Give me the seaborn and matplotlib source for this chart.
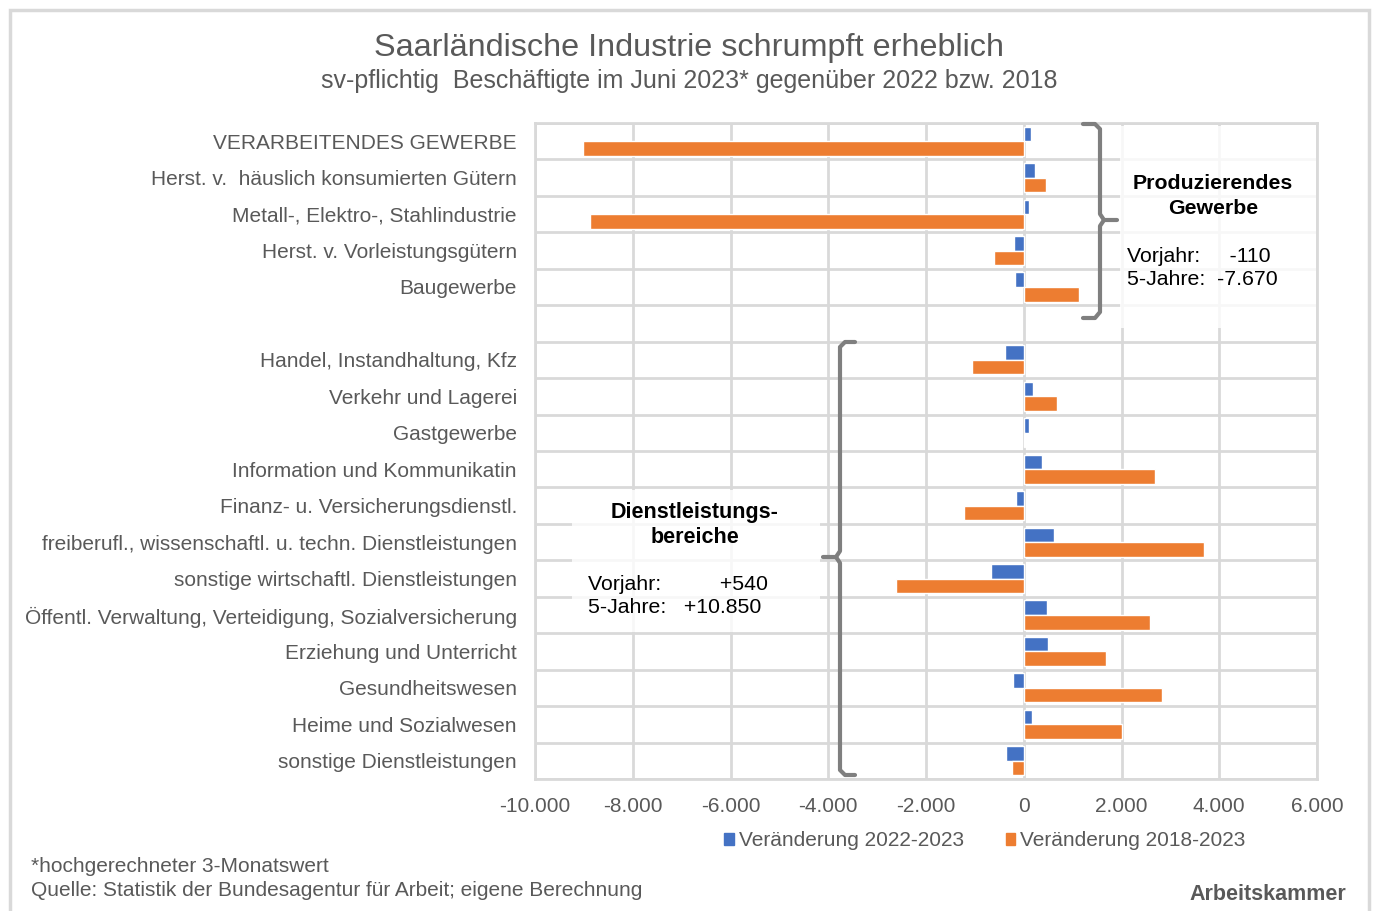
import numpy as np
import pandas as pd
import seaborn as sns
import matplotlib.pyplot as plt
from matplotlib.lines import Line2D
from matplotlib.patches import Rectangle, Patch
from matplotlib.ticker import FuncFormatter

# Data
categories = [
    'VERARBEITENDES GEWERBE',
    'Herst. v.  häuslich konsumierten Gütern',
    'Metall-, Elektro-, Stahlindustrie',
    'Herst. v. Vorleistungsgütern',
    'Baugewerbe',
    '',
    'Handel, Instandhaltung, Kfz',
    'Verkehr und Lagerei',
    'Gastgewerbe',
    'Information und Kommunikatin',
    'Finanz- u. Versicherungsdienstl.',
    'freiberufl., wissenschaftl. u. techn. Dienstleistungen',
    'sonstige wirtschaftl. Dienstleistungen',
    'Öffentl. Verwaltung, Verteidigung, Sozialversicherung',
    'Erziehung und Unterricht',
    'Gesundheitswesen',
    'Heime und Sozialwesen',
    'sonstige Dienstleistungen',
]
change_1y = [140, 225, 110, -200, -180, np.nan,
             -375, 180, 110, 380, -160, 610, -660, 470, 500, -230, 160, -360]
change_5y = [-9020, 450, -8870, -610, 1130, np.nan,
             -1060, 680, 20, 2680, -1220, 3680, -2610, 2590, 1680, 2820, 2000, -240]
series = ['Veränderung 2022-2023', 'Veränderung 2018-2023']

df = pd.DataFrame({
    'category': categories * 2,
    'value': change_1y + change_5y,
    'series': [series[0]] * len(categories) + [series[1]] * len(categories),
})

sns.set_style('white')
plt.rcParams['font.family'] = ['Liberation Sans', 'DejaVu Sans']

GREY = '#595959'
GRID = '#d9d9d9'
W, H = 1374, 911

fig = plt.figure(figsize=(W / 100, H / 100), dpi=100)
ax = fig.add_axes([535 / W, 1 - 779 / H, (1317 - 535) / W, (779 - 123) / H])

sns.barplot(data=df, x='value', y='category', hue='series', order=categories,
            hue_order=series, palette=['#4472C4', '#ED7D31'], orient='h',
            width=0.8, saturation=1, errorbar=None, ax=ax, legend=False)

ax.set_xlim(-10000, 6000)
ax.set_ylim(len(categories) - 0.5, -0.5)
ax.set_xticks(np.arange(-10000, 6001, 2000))
ax.xaxis.set_major_formatter(FuncFormatter(lambda x, p: f'{x:,.0f}'.replace(',', '.')))
ax.set_yticks(range(len(categories)))
ax.set_yticklabels(categories)
ax.set_yticks(np.arange(-0.5, len(categories)), minor=True)
ax.set_xlabel('')
ax.set_ylabel('')

ax.grid(axis='x', which='major', color=GRID, linewidth=2)
ax.grid(axis='y', which='minor', color=GRID, linewidth=2)
ax.set_axisbelow(True)
for s in ax.spines.values():
    s.set_color(GRID)
    s.set_linewidth(2)

ax.tick_params(axis='both', which='both', length=0, colors=GREY, labelsize=15)
ax.tick_params(axis='x', pad=13)
ax.tick_params(axis='y', pad=13)

# Title
fig.text(689 / W, 1 - 48 / H, 'Saarländische Industrie schrumpft erheblich',
         ha='center', va='center', fontsize=23.3, color=GREY)
fig.text(689 / W, 1 - 81 / H, 'sv-pflichtig  Beschäftigte im Juni 2023* gegenüber 2022 bzw. 2018',
         ha='center', va='center', fontsize=18, color=GREY)

# Legend
handles = [Patch(color='#4472C4'), Patch(color='#ED7D31')]
fig.legend(handles, series, loc='center', bbox_to_anchor=(985 / W, 1 - 841 / H), ncol=2,
           frameon=False, handlelength=0.45, handleheight=0.45, handletextpad=0.25,
           columnspacing=2.0, fontsize=15, labelcolor=GREY)

# Footnotes
fig.text(31 / W, 1 - 866 / H, '*hochgerechneter 3-Monatswert', ha='left', va='center',
         fontsize=15, color=GREY)
fig.text(31 / W, 1 - 890 / H, 'Quelle: Statistik der Bundesagentur für Arbeit; eigene Berechnung',
         ha='left', va='center', fontsize=15, color=GREY)
fig.text(1346 / W, 1 - 894 / H, 'Arbeitskammer', ha='right', va='center',
         fontsize=15.5, fontweight='bold', color=GREY)

# Outer frame
fig.add_artist(Rectangle((9.5 / W, -0.02), (1369 - 9.5) / W, 1 - 10 / H + 0.02,
                         transform=fig.transFigure, fill=False, edgecolor=GRID, linewidth=2.5))


def px(x, y):
    return x / W, 1 - y / H


def poly(points, **kw):
    xs, ys = zip(*[px(x, y) for x, y in points])
    fig.add_artist(Line2D(xs, ys, transform=fig.transFigure, color='#7f7f7f',
                          linewidth=3, solid_capstyle='round', solid_joinstyle='round', **kw))


# White boxes behind annotations
for (x0, y0, x1, y1) in [(1120, 126, 1316, 328), (572, 490, 820, 632)]:
    fig.add_artist(Rectangle(px(x0, y1), (x1 - x0) / W, (y1 - y0) / H, transform=fig.transFigure,
                             facecolor='white', edgecolor='none', alpha=0.8))

# Right brace (Produzierendes Gewerbe)
poly([(1083, 124), (1095, 124), (1100, 129), (1100, 214), (1104, 220), (1117, 220)])
poly([(1104, 220), (1100, 226), (1100, 312), (1095, 318), (1083, 318)])
# Left brace (Dienstleistungsbereiche)
poly([(855, 342), (845, 342), (840, 347), (840, 551), (836, 557), (823, 557)])
poly([(836, 557), (840, 563), (840, 770), (845, 775), (855, 775)])

fig.text(1213 / W, 1 - 196 / H, 'Produzierendes\nGewerbe', ha='center', va='center',
         fontsize=15.3, fontweight='bold', color='black', linespacing=1.35)
fig.text(1127 / W, 1 - 268 / H, 'Vorjahr:     -110\n5-Jahre:  -7.670', ha='left', va='center',
         fontsize=15.3, color='black', linespacing=1.3)

fig.text(695 / W, 1 - 525 / H, 'Dienstleistungs-\nbereiche', ha='center', va='center',
         fontsize=15.5, fontweight='bold', color='black', linespacing=1.3)
fig.text(588 / W, 1 - 596 / H, 'Vorjahr:          +540\n5-Jahre:   +10.850', ha='left', va='center',
         fontsize=15.3, color='black', linespacing=1.3)

fig.savefig('out.png', dpi=100)
